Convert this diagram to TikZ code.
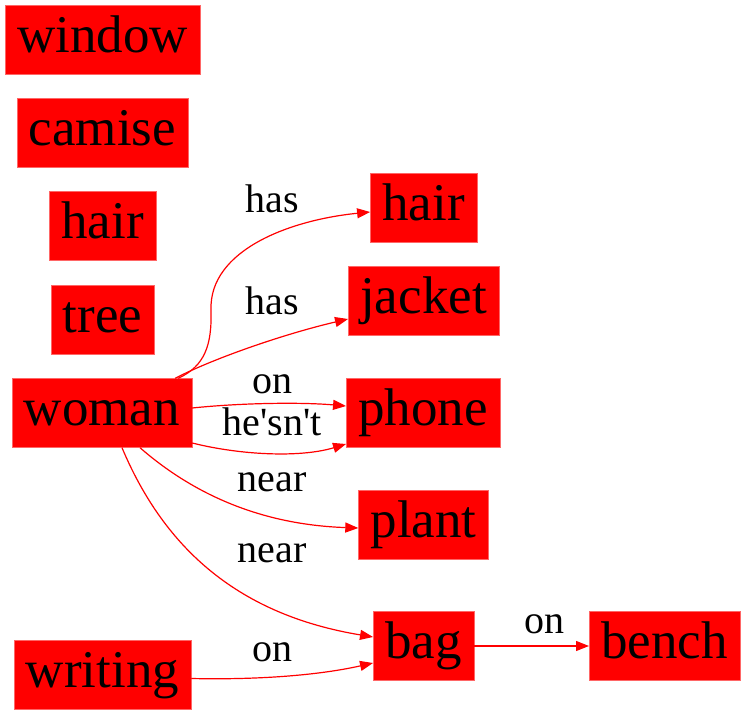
\documentclass[tikz,border=0pt]{standalone}
\usepackage{fontspec}
\setmainfont{Liberation Serif}
\newfontfamily\plainserif{Liberation Serif}
\usetikzlibrary{arrows.meta,positioning,calc}

\begin{document}
\begin{tikzpicture}[
    obj/.style={fill=red, draw=red!60, line width=0.4pt, inner xsep=12pt, inner ysep=10pt,
        text height=37pt, text depth=12pt, font=\fontsize{53}{53}\selectfont},
    rel/.style={-{Triangle[length=13pt,width=10pt]}, red, line width=1.2pt},
    lbl/.style={anchor=base, inner sep=0pt, font=\plainserif\fontsize{40}{40}\selectfont},
    x=1pt, y=-1pt
]
\useasboundingbox (0,0) rectangle (745,715);

% --- Objects (left column) ---
\node[obj] (window)  at (102.5,40)  {window};
\node[obj] (camise)  at (102.5,133) {camise};
\node[obj] (hairA)   at (102.5,226) {hair};
\node[obj] (tree)    at (102.5,320) {tree};
\node[obj] (woman)   at (102,413)   {woman};
\node[obj] (writing) at (102.5,674.5) {writing};

% --- Objects (right column) ---
\node[obj] (hairB)  at (423.5,208) {hair};
\node[obj] (jacket) at (423.5,301) {jacket};
\node[obj] (phone)  at (423,413)   {phone};
\node[obj] (plant)  at (423.5,525) {plant};
\node[obj] (bag)    at (423.5,646) {bag};
\node[obj] (bench)  at (664.5,646) {bench};

% --- Relations ---
\draw[rel] ($(woman.north east)+(-14,0)$) .. controls (205,366) and (212,345) .. (211,310)
    .. controls (209,250) and (290,220) .. ($(hairB.west)+(0,4)$);
\draw[rel] ($(woman.north east)+(-17,0)$) .. controls (210,360) and (280,335) .. ($(jacket.west)+(0,18)$);
\draw[rel] ($(woman.east)+(0,-5)$) .. controls (240,403) and (300,402) .. ($(phone.west)+(0,-7)$);
\draw[rel] ($(woman.east)+(0,30)$) .. controls (240,455) and (300,458) .. ($(phone.west)+(0,31)$);
\draw[rel] ($(woman.south)+(38,0)$) .. controls (200,500) and (270,525) .. ($(plant.west)+(0,3)$);
\draw[rel] ($(woman.south)+(20,0)$) .. controls (165,550) and (240,615) .. ($(bag.west)+(0,-9)$);
\draw[rel] ($(writing.east)+(0,4)$) .. controls (260,680) and (320,675) .. ($(bag.west)+(0,17)$);
\draw[rel] (bag) -- (bench);

% --- Relation labels ---
\node[lbl] (lhasA)  at (272,212) {has};
\node[lbl] (lhasB)  at (272,314) {has};
\node[lbl] (lonA)   at (272,393) {on};
\node[lbl] (lnot)   at (272,435) {he'sn't};
\node[lbl] (lnearA) at (272,491) {near};
\node[lbl] (lnearB) at (272,562) {near};
\node[lbl] (lonB)   at (272,661) {on};
\node[lbl] (lonC)   at (544,633) {on};

\end{tikzpicture}
\end{document}
